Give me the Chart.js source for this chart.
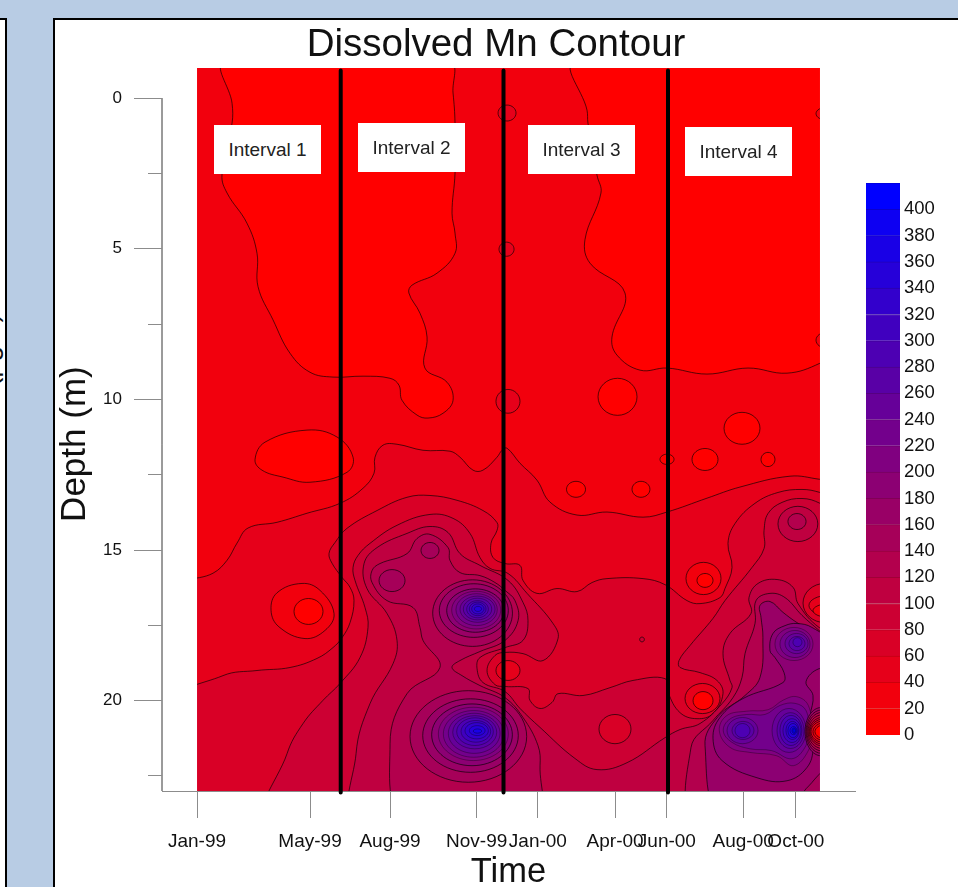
<!DOCTYPE html>
<html>
<head>
<meta charset="utf-8">
<title>Dissolved Mn Contour</title>
<script src="https://cdn.jsdelivr.net/npm/chart.js@4/dist/chart.umd.min.js"></script>
<style>
    html, body { margin: 0; padding: 0; width: 958px; height: 887px; overflow: hidden; background: #b8cce4; }
    body { position: relative; font-family: "Liberation Sans", Arial, sans-serif; }
    .panel { position: absolute; background: #fff; border: 2px solid #000; box-sizing: border-box; overflow: hidden; }
    #leftPanel { left: -4px; top: 18px; width: 11px; height: 880px; }
    #mainPanel { left: 53px; top: 18px; width: 920px; height: 880px; }
    #cutLabel { position: absolute; left: 4px; top: 339px; font-size: 28px; line-height: 28px; color: #111;
                transform-origin: 0 100%; transform: rotate(-90deg) translateY(0); white-space: nowrap; }
    canvas { position: absolute; }
    #contourChart { left: 34px; top: 0; }
    #colorBar { left: 860px; top: 168px; }
    .interval { position: absolute; width: 107px; height: 49px; line-height: 50px; background: #fff; color: #222;
                text-align: center; font-size: 19px; }
</style>
</head>
<body>
<div class="panel" id="leftPanel"><span id="cutLabel">(µg/L)</span></div>
<div class="panel" id="mainPanel"></div>
<canvas id="contourChart" width="924" height="890"></canvas>
<canvas id="colorBar" width="98" height="582"></canvas>
<div class="interval" style="left:214px;top:125px">Interval 1</div>
<div class="interval" style="left:358px;top:123px">Interval 2</div>
<div class="interval" style="left:528px;top:125px">Interval 3</div>
<div class="interval" style="left:685px;top:127px">Interval 4</div>

<script>
// Axis values. Time is in days since Jan-99, depth in metres.
const timeTicks = [0, 120, 205, 297, 362, 444, 499, 580, 636];
const timeLabels = ['Jan-99', 'May-99', 'Aug-99', 'Nov-99', 'Jan-00', 'Apr-00', 'Jun-00', 'Aug-00', 'Oct-00'];
const depthTicks = [0, 5, 10, 15, 20];
const depthMinorTicks = [2.5, 7.5, 12.5, 17.5, 22.5];
const intervalBreaks = [152.6, 325.5, 500.2];

// Colour bar levels
const barLevels = [0, 20, 40, 60, 80, 100, 120, 140, 160, 180, 200, 220, 240, 260, 280, 300, 320, 340, 360, 380, 400];
const barTicks = [0, 20, 40, 60, 80, 100, 120, 140, 160, 180, 200, 220, 240, 260, 280, 300, 320, 340, 360, 380, 400];

// Contour outlines, as [day, depth]
const plotBase = [[-30, -1.2], [690, -1.2], [690, 24], [-30, 24]];

const lowRegionLeft = [[30, -1.2], [37.2, 0.17], [37.2, 0.83], [26.5, 2.55], [31.9, 3.15], [53, 4.15], [63.7, 5.15],
    [64.8, 6.26], [80.7, 7.36], [98.8, 8.47], [120, 9.1], [144.4, 9.26], [176.3, 9.23], [205, 9.3], [214.5, 9.53],
    [217.7, 10.03], [233.6, 10.52], [245.3, 10.62], [261.3, 10.46], [271.9, 10.03], [265.5, 9.43], [242, 8.96],
    [244.3, 7.93], [236.8, 7.14], [225, 6.47], [228.3, 6.21], [254.9, 5.81], [274, 5.15], [274, 4.48], [270.8, 3.82],
    [274, 2.49], [274, 0.83], [271.9, -0.17], [267.6, -1.2]];

const lowRegionRight = [[402, -1.2], [414.2, 0.4], [415.2, 0.83], [424.8, 2.56], [429, 3.15], [412, 4.7], [417.4, 5.48],
    [454.5, 6.47], [440.7, 7.93], [446, 8.53], [470.5, 9.03], [499.1, 8.96], [541.6, 9.16], [585.2, 8.96], [626.6, 9.13],
    [661.6, 8.8], [685, 8.3], [685, -1.2]];

const lowOval = [[61.6, 12], [72.2, 11.42], [116.8, 11.02], [148.7, 11.25], [165.7, 11.92], [159.3, 12.42], [120, 12.75],
    [91.3, 12.58], [69, 12.35]];

const contour40 = [[-30, 16.4], [17, 15.77], [31.9, 15.34], [42.5, 14.77], [54.2, 14.27], [85, 14.08], [116.8, 13.78],
    [151.9, 13.45], [176.3, 12.95], [188, 12.45], [189, 11.92], [197.5, 11.52], [212.4, 11.49], [240, 11.69],
    [268.7, 11.72], [279.3, 11.92], [293.1, 12.35], [303.7, 12.35], [318.6, 11.92], [323.9, 11.69], [329.2, 11.62],
    [343, 12.12], [361, 12.68], [374.9, 13.41], [403.6, 13.84], [435.4, 13.74], [473.7, 13.91], [499.1, 13.74],
    [541.6, 13.28], [576.7, 12.91], [629.8, 12.55], [660.6, 12.65], [690, 12.8], [690, 24], [-30, 24]];

const spot17Outer = [[78.6, 17], [85, 16.42], [111.5, 16.11], [130.6, 16.34], [145.5, 17.11], [135.9, 17.67],
    [114.7, 17.94], [87, 17.55]];

const contour60 = [[-30, 20.2], [27.6, 19.17], [63.7, 19], [98.8, 18.9], [127.4, 18.6], [144.4, 18.24], [154, 17.91],
    [162.5, 17.41], [166.7, 16.68], [162.5, 16.24], [154, 15.91], [143.4, 15.44], [140.2, 15.11], [146.6, 14.75],
    [159.3, 14.28], [191.2, 13.69], [223, 13.25], [247.4, 13.19], [276.1, 13.35], [303.7, 13.69], [318.6, 14.09],
    [318.6, 14.35], [312.2, 14.78], [314.4, 15.25], [327.1, 15.45], [343, 15.51], [346.2, 16.01], [361.1, 16.44],
    [382.3, 16.28], [403.6, 16.38], [419.5, 16.08], [435.4, 15.95], [473.7, 15.95], [497, 16.15], [520.4, 16.68],
    [534.2, 16.78], [555.4, 16.58], [560.7, 16.28], [568.2, 15.58], [563.9, 14.78], [571.4, 14.12], [592.6, 13.45],
    [617, 13.09], [642.5, 12.99], [661.6, 13.09], [690, 13.4], [690, 24], [-30, 24]];

const contour80 = [[78, 24], [95.6, 21.76], [112.6, 20.76], [133.8, 19.99], [151.9, 19.43], [173.1, 18.57], [181.6, 17.57],
    [178.4, 16.91], [167.8, 16.01], [165.7, 15.58], [171, 15.18], [183.7, 14.78], [212.4, 14.18], [247.4, 13.82],
    [271.9, 13.95], [289.9, 14.45], [300.5, 15.25], [311.2, 15.61], [330.3, 15.78], [350.5, 16.44], [378.1, 17.44],
    [383.4, 17.94], [367.5, 18.67], [346.2, 18.44], [327.1, 18.4], [316.5, 18.5], [308, 19], [316.5, 19.47], [327.1, 19.53],
    [351.5, 19.6], [353.6, 19.99], [364.3, 20.26], [377, 20.06], [383.4, 19.77], [409.9, 19.83], [438.6, 19.57],
    [463, 19.33], [497, 19.27], [500.2, 19.73], [513, 20.4], [531, 20.6], [548, 20.43], [558.6, 19.77], [552.2, 19.33],
    [534.2, 19.07], [513, 18.9], [511.9, 18.67], [523.6, 18.17], [548, 17.27], [560.7, 16.68], [589.4, 15.58],
    [602.2, 14.95], [602.2, 14.35], [606.4, 13.79], [621.3, 13.42], [642.5, 13.29], [661.6, 13.45], [690, 14], [690, 24]];

const contour100 = [[173, 24], [168.9, 21.76], [183.7, 20.1], [208.2, 18.77], [212.4, 18], [201.8, 17.11], [180.5, 16.28],
    [177.4, 15.45], [191.2, 14.92], [223, 14.45], [247.4, 14.22], [266.6, 14.42], [279.3, 15.12], [300.5, 15.51],
    [330.3, 16.01], [346.2, 16.74], [351.5, 17.34], [346.2, 18], [327.1, 18.24], [300.5, 18.57], [297.4, 18.94],
    [303.7, 19.4], [327.1, 19.7], [343, 20.26], [364.3, 20.89], [401.4, 21.92], [424.8, 22.29], [456.7, 22.06],
    [497, 21.23], [513, 20.96], [534.2, 20.76], [557.6, 20.1], [568.2, 19.57], [566, 19.33], [558.6, 18.44], [566, 17.77],
    [588.3, 17.11], [586.2, 16.58], [595.8, 16.11], [616, 15.98], [633, 16.24], [638.3, 16.78], [660.6, 17.57],
    [690, 18], [690, 24]];

const contour120Left = [[223, 24], [205, 21.43], [223, 19.77], [258, 18.9], [240, 18], [236.8, 17.57], [229.4, 16.91],
    [201.8, 16.68], [185.9, 16.08], [185.9, 15.68], [194.3, 15.45], [223, 15.12], [233.6, 14.62], [247.4, 14.48],
    [266.6, 14.92], [268.7, 15.35], [279.3, 15.75], [300.5, 15.85], [316.5, 16.08], [327.1, 16.34], [337.7, 16.68],
    [341, 17.34], [327.1, 18], [300.5, 18.37], [279.3, 18.67], [270.8, 18.9], [281.4, 19.17], [300.5, 19.5], [327.1, 19.9],
    [346.2, 20.56], [362.1, 21.49], [364.3, 22.16], [359, 24]];

const contour120Right = [[532, 24], [524.6, 21.56], [548, 20.66], [569.2, 19.9], [578.8, 19.23], [582, 18.44], [592.6, 17.44],
    [593.7, 16.68], [608.5, 16.44], [624.5, 16.58], [642.5, 17.17], [660.6, 17.67], [690, 18.5], [690, 24]];

const contour160Right = [[562, 24], [539.5, 21.49], [553.3, 20.53], [582, 19.83], [597.9, 19.23], [601, 17.9], [599, 17.24],
    [597.9, 16.84], [608.5, 16.71], [622.3, 17.07], [637.2, 17.41], [660.6, 17.84], [690, 18.6], [690, 24]];

const cornerDip = [[640, 24], [642.5, 23.15], [653, 22.72], [661.6, 22.42], [690, 21.5], [690, 24]];

const contour180Right = [[555.4, 20.56], [579.9, 19.93], [622.3, 19.4], [623.4, 19.07], [613.8, 18.57], [608.5, 18.34],
    [611.7, 17.77], [624.5, 17.51], [637.2, 17.44], [653.1, 17.57], [678, 18.2], [678, 19], [660.6, 18.94], [646.8, 19.37],
    [654.2, 19.83], [651, 20.5], [648.9, 21], [654.2, 21.56], [647.8, 22.22], [626.6, 22.66], [594.7, 22.56], [557.6, 21.99],
    [548, 21.26]];

const contour200Right = [[554.7, 21], [562.5, 20.5], [583.8, 20.35], [606.7, 20.3], [622.7, 19.98], [636.9, 19.87],
    [649.2, 20.16], [652.8, 21], [649.2, 21.66], [633.3, 22.16], [615.6, 21.83], [587.3, 21.72], [566, 21.55]];

const contour220Right = [[558.9, 21], [566, 20.61], [583.8, 20.46], [603.2, 20.46], [619.1, 20.16], [635, 20.09],
    [646.8, 20.33], [649.2, 21], [645.7, 21.55], [631.6, 21.93], [610.3, 21.66], [587.3, 21.6], [567.9, 21.38]];

// Closed rings read as [level, left, right, top, bottom]
const lowSpots = [[0, 425.9, 467.3, 9.3, 10.53], [0, 559.7, 597.9, 10.43, 11.49], [0, 525.7, 553.3, 11.63, 12.36],
    [0, 599, 613.8, 11.76, 12.23], [0, 491.7, 506.6, 11.82, 12.16], [0, 392.4, 412.6, 12.72, 13.25], [0, 462, 481, 12.72, 13.25]];
const shallowPatches = [[40, 319.7, 338.8, 0.23, 0.76], [40, 320.7, 336.7, 4.78, 5.25], [40, 317.5, 343, 9.67, 10.46],
    [20, 657.4, 680, 0.3, 0.73], [20, 657.4, 680, 7.77, 8.3]];
const spotsIn40 = [[0, 103, 133.8, 16.61, 17.47], [20, 519.3, 556.5, 15.41, 16.48], [0, 531, 548, 15.78, 16.24]];
const spotsIn80 = [[80, 470.1, 475.1, 17.89, 18.05], [60, 426.9, 460.9, 20.46, 21.43], [100, 617, 659.3, 13.55, 14.72],
    [120, 627.6, 646.8, 13.79, 14.32], [40, 518.3, 555.4, 19.43, 20.43], [0, 526.8, 548, 19.7, 20.3], [40, 317.5, 343, 18.67, 19.33]];
const blobPeaks = [[140, 193.3, 220.9, 15.65, 16.38], [140, 237.9, 257, 14.75, 15.28]];

const nov17Rings = [[140, 250.3, 335, 15.99, 18.2], [160, 257.3, 330.6, 16.12, 17.9], [180, 265.2, 326, 16.29, 17.73],
    [200, 270.5, 322.5, 16.37, 17.62], [220, 275, 318.9, 16.45, 17.51], [240, 279.3, 316.5, 16.53, 17.4],
    [260, 282.8, 313, 16.6, 17.32], [280, 286.4, 309.4, 16.68, 17.25], [300, 289.2, 306.9, 16.73, 17.18],
    [320, 291.7, 304.8, 16.79, 17.12], [340, 294.5, 302.3, 16.87, 17.04]];

const nov21Rings = [[140, 226.2, 350.1, 19.67, 22.71], [160, 239.7, 341.2, 19.94, 22.38], [180, 249.2, 334.9, 20.11, 22.16],
    [200, 256.3, 330.6, 20.22, 21.99], [220, 261.6, 326, 20.33, 21.88], [240, 266.9, 321.8, 20.42, 21.75],
    [260, 271.6, 318.3, 20.5, 21.6], [280, 275.8, 314.7, 20.57, 21.49], [300, 280.4, 311.9, 20.66, 21.38],
    [320, 284.6, 309.4, 20.73, 21.27], [340, 289.2, 305.9, 20.83, 21.16], [360, 293.4, 302.3, 20.94, 21.08]];

const oct18Rings = [[200, 613.8, 654.2, 17.57, 18.67], [220, 619.1, 651, 17.67, 18.57], [240, 624.5, 648.9, 17.77, 18.44],
    [260, 628.7, 645.7, 17.87, 18.34], [280, 632.9, 642.5, 17.91, 18.21]];

const aug21Rings = [[240, 562.9, 595.8, 20.56, 21.43], [260, 568.2, 591.5, 20.69, 21.29], [280, 571.4, 587.3, 20.76, 21.23]];

const oct21Rings = [[240, 610.7, 646.8, 20.26, 21.72], [260, 616, 644.6, 20.4, 21.59], [280, 619.1, 642.5, 20.49, 21.49],
    [300, 622.3, 641.4, 20.6, 21.39], [320, 625.5, 639.3, 20.69, 21.29], [340, 627.6, 638.3, 20.76, 21.23],
    [360, 629.8, 637.2, 20.86, 21.13], [380, 631.9, 636.1, 20.9, 21.09], [400, 633, 635.2, 20.93, 21.06]];

// Steep drop at the right edge, the lines bunch up into the black smear
const edgeDropRings = [[160, 645.7, 680, 20.23, 21.83], [140, 646.8, 680, 20.31, 21.75], [120, 647.8, 680, 20.39, 21.67],
    [100, 648.9, 680, 20.47, 21.59], [80, 650, 680, 20.55, 21.51], [60, 651, 680, 20.61, 21.45], [40, 652.1, 680, 20.67, 21.39],
    [20, 654.2, 680, 20.73, 21.33], [0, 656.3, 680, 20.79, 21.27]];

const edgeSpotRings = [[60, 643.6, 690, 16.11, 17.41], [40, 649.9, 690, 16.51, 17.17], [20, 654.2, 690, 16.78, 17.24]];

/**
 * Red to blue ramp, one flat colour per 20 wide band
 */
function levelColor(level) {
    const t = Math.min(level / 400, 1);
    return 'rgb(' + Math.round(255 * (1 - t)) + ',0,' + Math.round(255 * t) + ')';
}

const layers = [];

function addPolygon(level, outline, lineWidth) {
    layers.push({
        data: outline.map(p => ({ x: p[0], y: p[1] })),
        closed: true,
        fill: 'shape',
        tension: 0.4,
        backgroundColor: levelColor(level),
        borderColor: level >= 200 ? 'rgba(0, 0, 0, 0.6)' : 'rgba(0, 0, 0, 0.8)',
        borderWidth: lineWidth !== undefined ? lineWidth : (level >= 200 ? 0.55 : 0.8)
    });
}

function addRings(table, lineWidth) {
    table.forEach(row => {
        const [level, left, right, top, bottom] = row;
        const midX = (left + right) / 2;
        const midY = (top + bottom) / 2;
        addPolygon(level, [[left, midY], [midX, top], [right, midY], [midX, bottom]], lineWidth);
        layers[layers.length - 1].tension = 0.55;
    });
}

// Painted from the outside in, later layers cover earlier ones
addPolygon(20, plotBase, 0);
layers[0].tension = 0;
addPolygon(0, lowRegionLeft);
addPolygon(0, lowRegionRight);
addPolygon(0, lowOval);
addRings(lowSpots);
addRings(shallowPatches);
addPolygon(40, contour40);
addPolygon(20, spot17Outer);
addRings(spotsIn40);
addPolygon(60, contour60);
addPolygon(80, contour80);
addRings(spotsIn80);
addPolygon(100, contour100);
addPolygon(120, contour120Left);
addPolygon(120, contour120Right);
addRings(blobPeaks);
addRings(nov17Rings);
addRings(nov21Rings);
addPolygon(160, contour160Right);
addPolygon(140, cornerDip);
addPolygon(180, contour180Right);
addPolygon(200, contour200Right);
addPolygon(220, contour220Right);
addRings(aug21Rings);
addRings(oct21Rings);
addRings(oct18Rings);
addRings(edgeDropRings, 0.8);
addRings(edgeSpotRings);

// White strips that trim the layers to the sampled time range
const plotEnd = 661.6;
const axisMin = -37.2;
const axisMax = 698.8;
[[axisMin, 0], [plotEnd, axisMax]].forEach(strip => {
    layers.push({
        data: [{ x: strip[0], y: -1 }, { x: strip[1], y: -1 }, { x: strip[1], y: 23 }, { x: strip[0], y: 23 }],
        closed: true,
        fill: 'shape',
        tension: 0,
        backgroundColor: '#fff',
        borderWidth: 0
    });
});

// Depth axis line starts at 0, not at the top of the plot
layers.push({
    data: [{ x: axisMin, y: 0 }, { x: axisMin, y: 23 }],
    borderColor: '#8c8c8c',
    borderWidth: 1,
    clip: false
});

intervalBreaks.forEach(day => {
    layers.push({
        data: [{ x: day, y: -0.92 }, { x: day, y: 23.05 }],
        borderColor: '#000',
        borderWidth: 4,
        borderCapStyle: 'round',
        clip: false
    });
});

// First dataset is drawn last by default, so turn the order around
layers.forEach((layer, i) => {
    layer.order = layers.length - i;
    layer.pointRadius = 0;
});

// Makes closed outlines real loops, so the spline has no corner where they join
const closeLoops = {
    id: 'closeLoops',
    afterDatasetsUpdate(chart) {
        chart.data.datasets.forEach((ds, i) => {
            if (ds.closed) {
                const line = chart.getDatasetMeta(i).dataset;
                line._loop = true;
                line._fullLoop = true;
            }
        });
    }
};

const axisColor = '#8c8c8c';
const textColor = '#111';
const fontFamily = '"Liberation Sans", Arial, sans-serif';

new Chart(document.getElementById('contourChart'), {
    type: 'line',
    data: { datasets: layers },
    plugins: [closeLoops],
    options: {
        responsive: false,
        animation: false,
        events: [],
        plugins: {
            legend: { display: false },
            tooltip: { enabled: false },
            title: {
                display: true,
                text: 'Dissolved Mn Contour',
                color: textColor,
                font: { family: fontFamily, size: 38.5, weight: 'normal', lineHeight: 1.2 },
                padding: { top: 21.8, bottom: 0 }
            }
        },
        scales: {
            x: {
                type: 'linear',
                min: axisMin,
                max: axisMax,
                afterBuildTicks(scale) { scale.ticks = timeTicks.map(v => ({ value: v })); },
                afterFit(scale) { scale.height = 99; },
                ticks: {
                    callback: (value, index) => timeLabels[index],
                    autoSkip: false,
                    maxRotation: 0,
                    minRotation: 0,
                    padding: 12,
                    color: textColor,
                    font: { family: fontFamily, size: 19 }
                },
                grid: { drawOnChartArea: false, tickLength: 27, color: axisColor },
                border: { color: axisColor },
                title: {
                    display: true,
                    text: 'Time',
                    color: textColor,
                    font: { family: fontFamily, size: 34.5, lineHeight: 1 },
                    padding: { top: 0, bottom: 0 }
                }
            },
            y: {
                type: 'linear',
                reverse: true,
                weight: 1,
                min: -1,
                max: 23,
                afterBuildTicks(scale) { scale.ticks = depthTicks.map(v => ({ value: v })); },
                afterFit(scale) { scale.width = 128; },
                ticks: {
                    callback: value => String(value),
                    autoSkip: false,
                    padding: 12,
                    color: textColor,
                    font: { family: fontFamily, size: 17 }
                },
                grid: { drawOnChartArea: false, tickLength: 28, color: axisColor },
                border: { display: false },
                title: {
                    display: true,
                    text: 'Depth (m)\u00a0\u00a0\u00a0',
                    color: textColor,
                    font: { family: fontFamily, size: 35, lineHeight: 1 },
                    padding: { top: 23.5, bottom: 0 }
                }
            },
            yMinor: {
                type: 'linear',
                axis: 'y',
                position: 'left',
                reverse: true,
                weight: 0,
                min: -1,
                max: 23,
                afterBuildTicks(scale) { scale.ticks = depthMinorTicks.map(v => ({ value: v })); },
                afterFit(scale) { scale.width = 0; },
                ticks: { callback: () => '', autoSkip: false, padding: 0 },
                grid: { drawOnChartArea: false, tickLength: 14, color: axisColor },
                border: { display: false }
            },
            // Empty axis, keeps the plot clear of the colour bar and the title centred on the canvas
            rightGap: {
                type: 'linear',
                axis: 'y',
                position: 'right',
                afterFit(scale) { scale.width = 103; },
                ticks: { display: false },
                grid: { display: false },
                border: { display: false }
            }
        }
    }
});

// Colour bar, one stacked bar segment per level
new Chart(document.getElementById('colorBar'), {
    type: 'bar',
    data: {
        labels: [''],
        datasets: barLevels.map(level => {
            const t = Math.min(level / 400, 1);
            return {
                data: [20],
                backgroundColor: levelColor(level),
                borderColor: 'rgb(' + Math.round(215 * (1 - t)) + ',0,' + Math.round(215 * t) + ')',
                borderWidth: { top: 1 },
                barPercentage: 1,
                categoryPercentage: 1
            };
        })
    },
    options: {
        responsive: false,
        animation: false,
        events: [],
        layout: { padding: { left: 6, top: 13, bottom: 11 } },
        plugins: { legend: { display: false }, tooltip: { enabled: false } },
        scales: {
            x: { display: false, stacked: true },
            y: {
                stacked: true,
                position: 'right',
                min: 0,
                max: 420,
                afterBuildTicks(scale) { scale.ticks = barTicks.map(v => ({ value: v })); },
                afterFit(scale) { scale.width = 58; },
                ticks: {
                    callback: value => String(value),
                    autoSkip: false,
                    padding: 4,
                    color: textColor,
                    font: { family: fontFamily, size: 18.5 }
                },
                grid: { display: false, drawTicks: false },
                border: { display: false }
            }
        }
    }
});
</script>
</body>
</html>
